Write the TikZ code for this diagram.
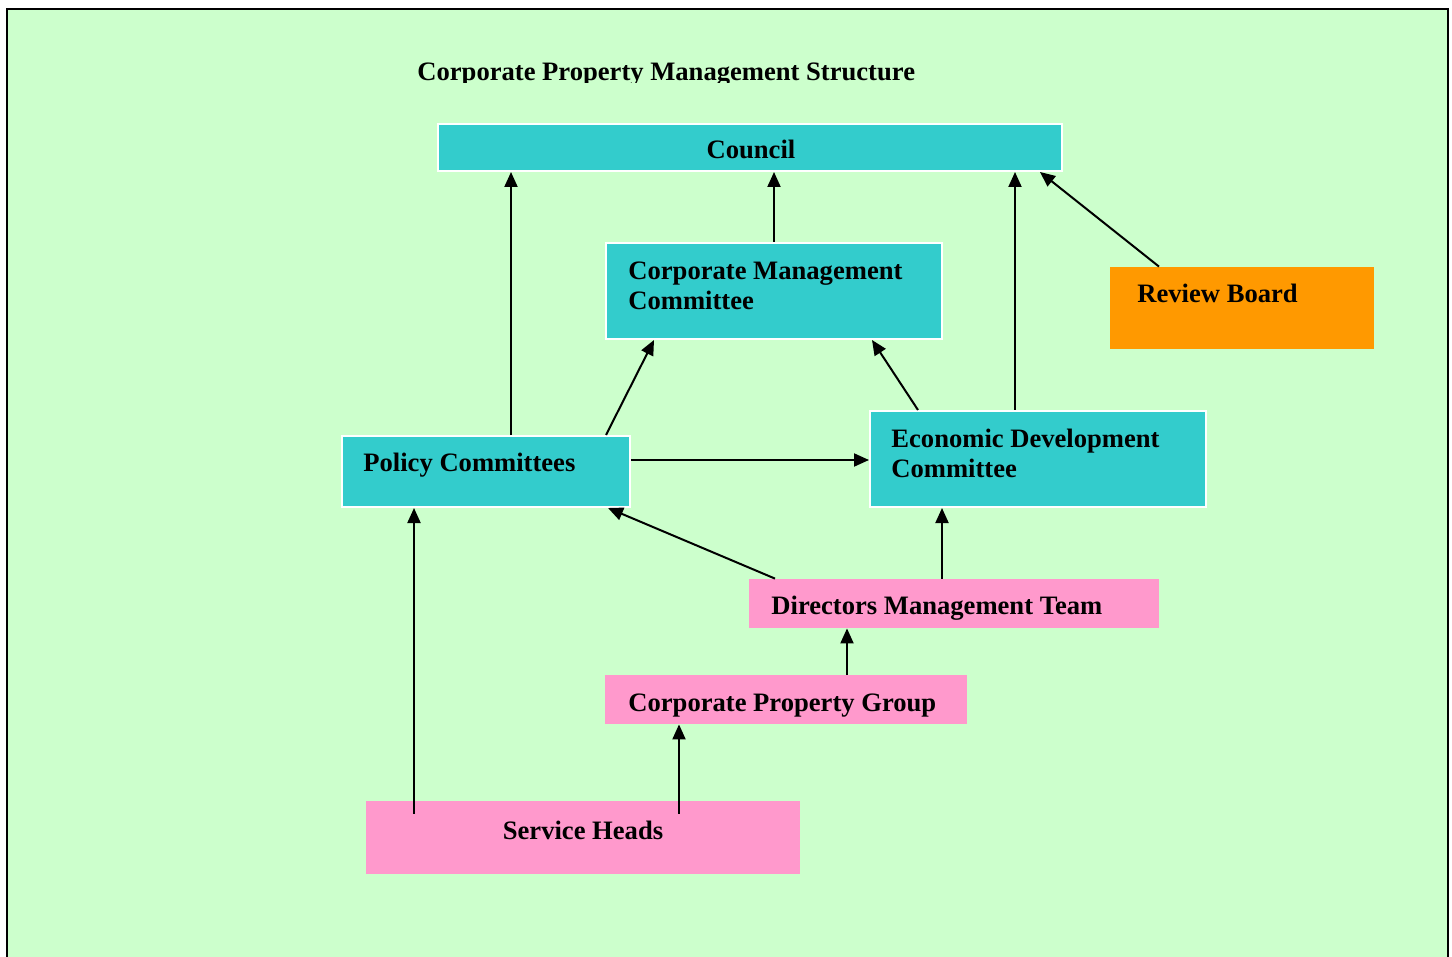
\documentclass[tikz,border=0pt]{standalone}
\usepackage{fontspec}
\setmainfont{Liberation Serif}
\usepackage{xcolor}
\usepackage{tikz}
\usetikzlibrary{arrows.meta,calc}

\definecolor{bggreen}{HTML}{CCFFCC}
\definecolor{boxteal}{HTML}{33CCCC}
\definecolor{boxpink}{HTML}{FF99CC}
\definecolor{boxorange}{HTML}{FF9900}

\begin{document}
\begin{tikzpicture}[x=0.5pt, y=-0.5pt,
    box/.style={rectangle, inner sep=0pt},
    tealbox/.style={box, fill=boxteal, draw=white, line width=1pt},
    pinkbox/.style={box, fill=boxpink},
    lbl/.style={inner sep=0pt, font=\fontsize{13.3}{15}\selectfont\bfseries, align=left},
    arr/.style={-{Triangle[length=7.5pt,width=6.5pt]}, line width=1pt}]
    \useasboundingbox (0,0) rectangle (1452,957);
    \clip (0,0) rectangle (1452,957);

    % Draw the page frame
    \fill[white] (0,0) rectangle (1452,957);
    \fill[bggreen] (7,9) rectangle (1448,970);
    \draw[line width=1pt] (7,970) -- (7,9) -- (1448,9) -- (1448,970);

    % Add the title
    \begin{scope}
        \clip (400,40) rectangle (940,83);
        \node[lbl, anchor=base west] (title) at (417,81) {Corporate Property Management Structure};
    \end{scope}

    % Draw the boxes
    \node[tealbox, minimum width=312pt, minimum height=23.5pt] (council) at (750,147.5) {};
    \node[tealbox, minimum width=168pt, minimum height=48pt] (cmc) at (774,291) {};
    \node[box, fill=boxorange, minimum width=132pt, minimum height=41pt] (review) at (1242,308) {};
    \node[tealbox, minimum width=144pt, minimum height=35.5pt] (policy) at (486,471.5) {};
    \node[tealbox, minimum width=168pt, minimum height=48pt] (edc) at (1038,459) {};
    \node[pinkbox, minimum width=205pt, minimum height=24.5pt] (dmt) at (954,603.5) {};
    \node[pinkbox, minimum width=181pt, minimum height=24.5pt] (cpg) at (786,699.5) {};
    \node[pinkbox, minimum width=217pt, minimum height=36.5pt] (heads) at (583,837.5) {};

    % Add the text
    \node[lbl, anchor=base] (councilText) at (751,159) {Council};
    \node[lbl, anchor=base west] (cmcText) at (628,310) {Corporate Management\\Committee};
    \node[lbl, anchor=base west] (reviewText) at (1137,303) {Review Board};
    \node[lbl, anchor=base west] (policyText) at (363,472) {Policy Committees};
    \node[lbl, anchor=base west] (edcText) at (891,477) {Economic Development\\Committee};
    \node[lbl, anchor=base west] (dmtText) at (771,614) {Directors Management Team};
    \node[lbl, anchor=base west] (cpgText) at (628,711) {Corporate Property Group};
    \node[lbl, anchor=base] (headsText) at (583,839) {Service Heads};

    % Draw the arrows
    \draw[arr] (policy.north -| 511,0) -- (council.south -| 511,0);
    \draw[arr] (cmc.north) -- (council.south -| cmc.north);
    \draw[arr] (edc.north -| 1015,0) -- (council.south -| 1015,0);
    \draw[arr] (review.north -| 1159,0) -- (council.south -| 1040,0);
    \draw[arr] (policy.north -| 606,0) -- (cmc.south -| 654,0);
    \draw[arr] (edc.north -| 918,0) -- (cmc.south -| 872,0);
    \draw[arr] (policy.east |- 0,460) -- (edc.west |- 0,460);
    \draw[arr] (dmt.north -| 775,0) -- (policy.south -| 608,0);
    \draw[arr] (dmt.north -| 942,0) -- (edc.south -| 942,0);
    \draw[arr] (cpg.north -| 847,0) -- (dmt.south -| 847,0);
    \draw[arr] ($(heads.north -| 414,0)+(0,13)$) -- (policy.south -| 414,0);
    \draw[arr] ($(heads.north -| 679,0)+(0,13)$) -- (cpg.south -| 679,0);
\end{tikzpicture}
\end{document}
